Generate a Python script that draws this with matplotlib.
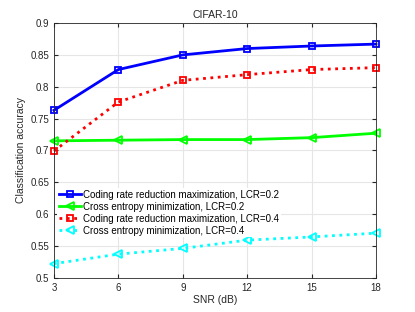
import numpy as np
import matplotlib
matplotlib.use("Agg")
import matplotlib.pyplot as plt

plt.rcParams['font.family'] = ['Liberation Sans', 'DejaVu Sans']

snr = [3, 6, 9, 12, 15, 18]
crr_02 = [0.763, 0.827, 0.850, 0.860, 0.864, 0.867]
ce_02 = [0.715, 0.716, 0.717, 0.717, 0.720, 0.727]
crr_04 = [0.699, 0.776, 0.810, 0.819, 0.827, 0.830]
ce_04 = [0.522, 0.537, 0.546, 0.559, 0.564, 0.570]

fig = plt.figure(figsize=(4.15, 3.12), dpi=100)
ax = fig.add_axes([0.130, 0.110, 0.776, 0.816])

style = dict(lw=2, mfc='none', mew=1.3, clip_on=False)
ax.plot(snr, crr_02, '-', color='blue', marker='s', ms=4.5,
        label='Coding rate reduction maximization, LCR=0.2', **style)
ax.plot(snr, ce_02, '-', color='#00ff00', marker='<', ms=6,
        label='Cross entropy minimization, LCR=0.2', **style)
ax.plot(snr, crr_04, ':', color='red', marker='s', ms=4.5,
        label='Coding rate reduction maximization, LCR=0.4', **style)
ax.plot(snr, ce_04, ':', color='cyan', marker='<', ms=6,
        label='Cross entropy minimization, LCR=0.4', **style)

ax.set_xlim(3, 18)
ax.set_ylim(0.5, 0.9)
ax.set_xticks(snr)
ax.set_yticks([0.5, 0.55, 0.6, 0.65, 0.7, 0.75, 0.8, 0.85, 0.9])
ax.set_yticklabels(['0.5', '0.55', '0.6', '0.65', '0.7', '0.75', '0.8', '0.85', '0.9'])
ax.grid(True, color='#e6e6e6', lw=0.8)
ax.set_axisbelow(True)
ax.tick_params(direction='in', labelsize=7, colors='#262626', length=3, top=True, right=True,
               labeltop=False, labelright=False)
for s in ax.spines.values():
    s.set_color('#262626')
    s.set_linewidth(0.6)

ax.set_xlabel('SNR (dB)', fontsize=7.5, color='#262626', labelpad=2)
ax.set_ylabel('Classification accuracy', fontsize=7.5, color='#262626', labelpad=3)
ax.set_title('CIFAR-10', fontsize=7.5, color='#262626', pad=4)

leg = ax.legend(loc='upper left', bbox_to_anchor=(-0.005, 0.37), fontsize=7, frameon=True,
                fancybox=False, edgecolor='none', facecolor='white', framealpha=1,
                handlelength=2.3, handletextpad=0.25, labelspacing=0.2, borderpad=0.15)

fig.savefig('out.png', dpi=100)
